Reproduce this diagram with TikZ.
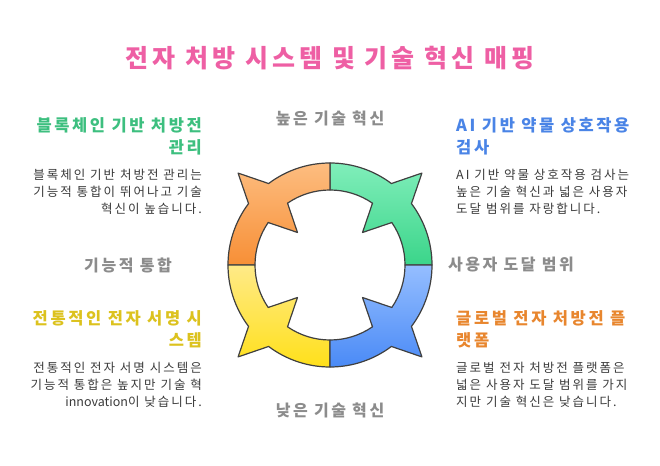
\documentclass[tikz,border=0pt]{standalone}
\usepackage{fontspec}
\setmainfont{Noto Sans CJK KR}[LetterSpace=16]
\usepackage{xcolor}
\usepackage{tikz}
\usetikzlibrary{positioning}
\usetikzlibrary{shadings}
\definecolor{titlepink}{HTML}{EE5FA4}
\definecolor{axisgray}{HTML}{8C8C8C}
\definecolor{bodygray}{HTML}{3A3A3A}
\definecolor{ringline}{HTML}{404040}
\definecolor{greenhead}{HTML}{3DBF7F}
\definecolor{bluehead}{HTML}{4A84E6}
\definecolor{yellowhead}{HTML}{DCC21E}
\definecolor{orangehead}{HTML}{E8862E}
\definecolor{greentop}{HTML}{80EEBA}
\definecolor{greenbot}{HTML}{3BD58A}
\definecolor{orangetop}{HTML}{FDBD80}
\definecolor{orangebot}{HTML}{F78F36}
\definecolor{yellowtop}{HTML}{FFEA88}
\definecolor{yellowbot}{HTML}{FFE01A}
\definecolor{bluetop}{HTML}{95BEFF}
\definecolor{bluebot}{HTML}{4A8AF6}
\newcommand{\plainlatin}[1]{{\addfontfeature{LetterSpace=0}#1}}
\tikzstyle{headline}=[font=\fontsize{25}{29}\selectfont\bfseries, text=titlepink]
\tikzstyle{axislabel}=[font=\fontsize{16}{20}\selectfont\bfseries, text=axisgray]
\tikzstyle{boxtitle}=[font=\fontsize{16.5}{22}\selectfont\bfseries, inner sep=0pt]
\tikzstyle{boxtext}=[font=\fontsize{12.5}{17}\selectfont, text=bodygray, inner sep=0pt]
\tikzstyle{quarter}=[draw=ringline, line width=1.2pt, line join=round]

\begin{document}
\begin{tikzpicture}[x=1pt,y=1pt]
 \useasboundingbox (0,0) rectangle (660,465);

 %Title
 \node[headline] (title) at (330,407) {전자 처방 시스템 및 기술 혁신 매핑};

 %Ring
 \def\R{102};
 \def\r{75};
 \def\tipout{130};
 \def\tipin{46};
 \begin{scope}[shift={(330,200)}]
   \foreach \a/\top/\bot in {0/greentop/greenbot, 90/orangetop/orangebot, 180/yellowtop/yellowbot, 270/bluetop/bluebot}
     \draw[quarter, top color=\top, bottom color=\bot] (\a:\R) arc[start angle=\a, end angle=\a+37, radius=\R]
       -- (\a+45:\tipout) -- (\a+53:\R) arc[start angle=\a+53, end angle=\a+90, radius=\R]
       -- (\a+90:\r) arc[start angle=\a+90, end angle=\a+55.5, radius=\r]
       -- (\a+45:\tipin) -- (\a+34.5:\r) arc[start angle=\a+34.5, end angle=\a, radius=\r] -- cycle;
 \end{scope}

 %Axes
 \foreach \x/\y/\name/\label in {330/347/high/높은 기술 혁신, 330/55/low/낮은 기술 혁신, 128/200/func/기능적 통합, 511/200/reach/사용자 도달 범위}
   \node[axislabel] (\name) at (\x,\y) {\label};

 %Left side
 \foreach \y/\name/\col/\heading/\blurb in {329/chain/greenhead/{블록체인 기반 처방전\\관리}/{블록체인 기반 처방전 관리는\\기능적 통합이 뛰어나고 기술\\혁신이 높습니다.}, 136/sign/yellowhead/{전통적인 전자 서명 시\\스템}/{전통적인 전자 서명 시스템은\\기능적 통합은 높지만 기술 혁\\\plainlatin{innovation}이 낮습니다.}}
 {
   \node[boxtitle, text=\col, anchor=east, align=right] (\name) at (202,\y) {\heading};
   \node[boxtext, below=14pt of \name.south east, anchor=north east, align=right] (\name text) {\blurb};
 }

 %Right side
 \foreach \y/\name/\col/\heading/\blurb in {329/ai/bluehead/{AI 기반 약물 상호작용\\검사}/{AI 기반 약물 상호작용 검사는\\높은 기술 혁신과 넓은 사용자\\도달 범위를 자랑합니다.}, 136/global/orangehead/{글로벌 전자 처방전 플\\랫폼}/{글로벌 전자 처방전 플랫폼은\\넓은 사용자 도달 범위를 가지\\지만 기술 혁신은 낮습니다.}}
 {
   \node[boxtitle, text=\col, anchor=west, align=left] (\name) at (456,\y) {\heading};
   \node[boxtext, below=14pt of \name.south west, anchor=north west, align=left] (\name text) {\blurb};
 }

\end{tikzpicture}
\end{document}
